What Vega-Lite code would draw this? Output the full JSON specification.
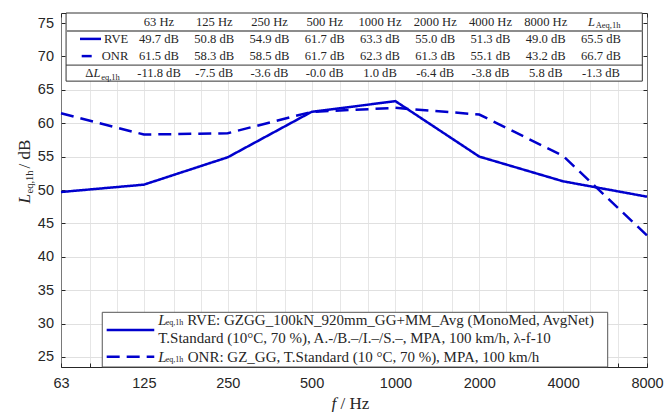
{
  "$schema": "https://vega.github.io/schema/vega-lite/v6.json",
  "width": 586,
  "height": 354,
  "autosize": {"type": "none"},
  "padding": {"left": 61, "top": 13, "right": 18, "bottom": 45},
  "background": "white",
  "config": {
    "view": {"stroke": "#262626", "strokeWidth": 1},
    "text": {"font": "Liberation Serif", "color": "#262626"}
  },
  "datasets": {
    "levels": [
      {"f": 63, "series": "RVE", "L": 49.7},
      {"f": 125, "series": "RVE", "L": 50.8},
      {"f": 250, "series": "RVE", "L": 54.9},
      {"f": 500, "series": "RVE", "L": 61.7},
      {"f": 1000, "series": "RVE", "L": 63.3},
      {"f": 2000, "series": "RVE", "L": 55.0},
      {"f": 4000, "series": "RVE", "L": 51.3},
      {"f": 8000, "series": "RVE", "L": 49.0},
      {"f": 63, "series": "ONR", "L": 61.5},
      {"f": 125, "series": "ONR", "L": 58.3},
      {"f": 250, "series": "ONR", "L": 58.5},
      {"f": 500, "series": "ONR", "L": 61.7},
      {"f": 1000, "series": "ONR", "L": 62.3},
      {"f": 2000, "series": "ONR", "L": 61.3},
      {"f": 4000, "series": "ONR", "L": 55.1},
      {"f": 8000, "series": "ONR", "L": 43.2}
    ],
    "tbl": [
      {"row": "head", "col": "63", "txt": "63 Hz"},
      {"row": "head", "col": "125", "txt": "125 Hz"},
      {"row": "head", "col": "250", "txt": "250 Hz"},
      {"row": "head", "col": "500", "txt": "500 Hz"},
      {"row": "head", "col": "1000", "txt": "1000 Hz"},
      {"row": "head", "col": "2000", "txt": "2000 Hz"},
      {"row": "head", "col": "4000", "txt": "4000 Hz"},
      {"row": "head", "col": "8000", "txt": "8000 Hz"},
      {"row": "RVE", "col": "63", "txt": "49.7 dB"},
      {"row": "RVE", "col": "125", "txt": "50.8 dB"},
      {"row": "RVE", "col": "250", "txt": "54.9 dB"},
      {"row": "RVE", "col": "500", "txt": "61.7 dB"},
      {"row": "RVE", "col": "1000", "txt": "63.3 dB"},
      {"row": "RVE", "col": "2000", "txt": "55.0 dB"},
      {"row": "RVE", "col": "4000", "txt": "51.3 dB"},
      {"row": "RVE", "col": "8000", "txt": "49.0 dB"},
      {"row": "RVE", "col": "LA", "txt": "65.5 dB"},
      {"row": "ONR", "col": "63", "txt": "61.5 dB"},
      {"row": "ONR", "col": "125", "txt": "58.3 dB"},
      {"row": "ONR", "col": "250", "txt": "58.5 dB"},
      {"row": "ONR", "col": "500", "txt": "61.7 dB"},
      {"row": "ONR", "col": "1000", "txt": "62.3 dB"},
      {"row": "ONR", "col": "2000", "txt": "61.3 dB"},
      {"row": "ONR", "col": "4000", "txt": "55.1 dB"},
      {"row": "ONR", "col": "8000", "txt": "43.2 dB"},
      {"row": "ONR", "col": "LA", "txt": "66.7 dB"},
      {"row": "d", "col": "63", "txt": "-11.8 dB"},
      {"row": "d", "col": "125", "txt": "-7.5 dB"},
      {"row": "d", "col": "250", "txt": "-3.6 dB"},
      {"row": "d", "col": "500", "txt": "-0.0 dB"},
      {"row": "d", "col": "1000", "txt": "1.0 dB"},
      {"row": "d", "col": "2000", "txt": "-6.4 dB"},
      {"row": "d", "col": "4000", "txt": "-3.8 dB"},
      {"row": "d", "col": "8000", "txt": "5.8 dB"},
      {"row": "d", "col": "LA", "txt": "-1.3 dB"}
    ],
    "one": [{}]
  },
  "layer": [
    {
      "resolve": {"axis": {"x": "independent", "y": "independent"}},
      "layer": [
        {
          "data": {"name": "levels"},
          "mark": {"type": "line", "color": "#0000cd", "strokeWidth": 2.5, "strokeCap": "butt"},
          "encoding": {
            "x": {
              "field": "f", "type": "quantitative",
              "scale": {"type": "log", "domain": [63, 8000], "nice": false},
              "axis": {
                "orient": "bottom",
                "values": [63, 80, 100, 125, 160, 200, 250, 315, 400, 500, 630, 800, 1000, 1250, 1600, 2000, 2500, 3150, 4000, 5000, 6300, 8000],
                "format": "d",
                "labelExpr": "indexof([63,125,250,500,1000,2000,4000,8000], datum.value) >= 0 ? datum.label : ''",
                "labelOverlap": false, "labelFlush": false,
                "grid": true, "gridColor": "#cccccc", "gridDash": [1, 1],
                "domain": false, "ticks": true, "tickSize": -4, "tickColor": "#262626",
                "labelFont": "Liberation Sans", "labelFontSize": 14.5, "labelColor": "#262626", "labelPadding": 13,
                "title": "f", "titleFont": "Liberation Serif", "titleFontStyle": "italic", "titleFontWeight": "normal",
                "titleFontSize": 17, "titleColor": "#262626", "titleX": 270, "titleY": 41,
                "titleAlign": "left", "titleBaseline": "alphabetic"
              }
            },
            "y": {
              "field": "L", "type": "quantitative",
              "scale": {"domain": [23.5, 76.5], "nice": false, "zero": false},
              "axis": {
                "orient": "left",
                "values": [25, 30, 35, 40, 45, 50, 55, 60, 65, 70, 75],
                "grid": true, "gridColor": "#e0e0e0",
                "domain": false, "ticks": true, "tickSize": -4, "tickColor": "#262626",
                "labelFont": "Liberation Sans", "labelFontSize": 14.5, "labelColor": "#262626", "labelPadding": 11.5,
                "title": "L", "titleFont": "Liberation Serif", "titleFontStyle": "italic", "titleFontWeight": "normal",
                "titleFontSize": 17, "titleColor": "#262626", "titleAngle": 270, "titleX": -32, "titleY": 190,
                "titleAlign": "left", "titleBaseline": "alphabetic"
              }
            },
            "strokeDash": {
              "field": "series", "type": "nominal",
              "scale": {"domain": ["RVE", "ONR"], "range": [[1, 0], [13, 7]]},
              "legend": null
            }
          }
        },
        {
          "data": {"name": "one"},
          "mark": {"type": "rect", "fill": "white", "stroke": "#333333", "strokeWidth": 1},
          "encoding": {
            "x": {"datum": 65.7, "type": "quantitative", "axis": {
              "orient": "bottom", "labels": false, "ticks": false, "grid": false, "domain": false,
              "title": "/ Hz", "titleFont": "Liberation Serif", "titleFontWeight": "normal", "titleFontSize": 17,
              "titleColor": "#262626", "titleX": 279, "titleY": 41, "titleAlign": "left", "titleBaseline": "alphabetic"}},
            "x2": {"datum": 7696},
            "y": {"datum": 76.5, "type": "quantitative", "axis": {
              "orient": "left", "labels": false, "ticks": false, "grid": false, "domain": false,
              "title": "eq,1h", "titleFont": "Liberation Serif", "titleFontWeight": "normal", "titleFontSize": 10.5,
              "titleColor": "#262626", "titleAngle": 270, "titleX": -29, "titleY": 180,
              "titleAlign": "left", "titleBaseline": "alphabetic"}},
            "y2": {"datum": 66.3}
          }
        },
        {
          "data": {"name": "one"},
          "mark": {"type": "rule", "stroke": "#8c8c8c", "strokeWidth": 2},
          "encoding": {
            "x": {"datum": 65.7, "type": "quantitative", "axis": null},
            "x2": {"datum": 7696},
            "y": {"datum": 73.8, "type": "quantitative", "axis": null}
          }
        },
        {
          "data": {"name": "one"},
          "mark": {"type": "rule", "stroke": "#333333", "strokeWidth": 1},
          "encoding": {
            "x": {"datum": 65.7, "type": "quantitative", "axis": null},
            "x2": {"datum": 7696},
            "y": {"datum": 68.7, "type": "quantitative", "axis": null}
          }
        },
        {
          "data": {"name": "one"},
          "mark": {"type": "rect", "fill": "white", "stroke": "#555555", "strokeWidth": 1},
          "encoding": {
            "x": {"datum": 88.6, "type": "quantitative", "axis": {
              "orient": "top", "values": [63, 80, 100, 125, 160, 200, 250, 315, 400, 500, 630, 800, 1000, 1250, 1600, 2000, 2500, 3150, 4000, 5000, 6300, 8000],
              "labels": false, "ticks": true, "tickSize": -4, "tickColor": "#262626", "grid": false, "domain": false, "title": null}},
            "x2": {"datum": 5781},
            "y": {"datum": 31.69, "type": "quantitative", "axis": {
              "orient": "left", "labels": false, "ticks": false, "grid": false, "domain": false,
              "title": "/ dB", "titleFont": "Liberation Serif", "titleFontWeight": "normal", "titleFontSize": 17,
              "titleColor": "#262626", "titleAngle": 270, "titleX": -32, "titleY": 155,
              "titleAlign": "left", "titleBaseline": "alphabetic"}},
            "y2": {"datum": 23.5}
          }
        },
        {
          "data": {"name": "one"},
          "mark": {"type": "rule", "stroke": "#0000cd", "strokeWidth": 2.5},
          "encoding": {
            "x": {"datum": 91.9, "type": "quantitative", "axis": null},
            "x2": {"datum": 136.2},
            "y": {"datum": 29.04, "type": "quantitative", "axis": {
              "orient": "right", "values": [25, 30, 35, 40, 45, 50, 55, 60, 65, 70, 75],
              "labels": false, "ticks": true, "tickSize": -4, "tickColor": "#262626", "grid": false, "domain": false, "title": null}}
          }
        },
        {
          "data": {"name": "one"},
          "mark": {"type": "rule", "stroke": "#0000cd", "strokeWidth": 2.5, "strokeDash": [13, 7]},
          "encoding": {
            "x": {"datum": 91.9, "type": "quantitative", "axis": null},
            "x2": {"datum": 136.2},
            "y": {"datum": 25.04, "type": "quantitative", "axis": null}
          }
        },
        {
          "data": {"name": "one"},
          "mark": {"type": "text", "align": "left", "baseline": "middle", "fontSize": 15, "fontStyle": "italic"},
          "encoding": {
            "x": {"datum": 140.8, "type": "quantitative", "axis": null},
            "y": {"datum": 30.54, "type": "quantitative", "axis": null},
            "text": {"value": "L"}
          }
        },
        {
          "data": {"name": "one"},
          "mark": {"type": "text", "align": "left", "baseline": "middle", "fontSize": 8, "dx": 7.5, "dy": 3.5},
          "encoding": {
            "x": {"datum": 140.8, "type": "quantitative", "axis": null},
            "y": {"datum": 30.54, "type": "quantitative", "axis": null},
            "text": {"value": "eq,1h"}
          }
        },
        {
          "data": {"name": "one"},
          "mark": {"type": "text", "align": "left", "baseline": "middle", "fontSize": 15, "dx": 29},
          "encoding": {
            "x": {"datum": 140.8, "type": "quantitative", "axis": null},
            "y": {"datum": 30.54, "type": "quantitative", "axis": null},
            "text": {"value": "RVE: GZGG_100kN_920mm_GG+MM_Avg (MonoMed, AvgNet)"}
          }
        },
        {
          "data": {"name": "one"},
          "mark": {"type": "text", "align": "left", "baseline": "middle", "fontSize": 15},
          "encoding": {
            "x": {"datum": 140.8, "type": "quantitative", "axis": null},
            "y": {"datum": 27.8, "type": "quantitative", "axis": null},
            "text": {"value": "T.Standard (10°C, 70 %), A.-/B.–/I.–/S.–, MPA, 100 km/h, λ-f-10"}
          }
        },
        {
          "data": {"name": "one"},
          "mark": {"type": "text", "align": "left", "baseline": "middle", "fontSize": 15, "fontStyle": "italic"},
          "encoding": {
            "x": {"datum": 140.8, "type": "quantitative", "axis": null},
            "y": {"datum": 25.04, "type": "quantitative", "axis": null},
            "text": {"value": "L"}
          }
        },
        {
          "data": {"name": "one"},
          "mark": {"type": "text", "align": "left", "baseline": "middle", "fontSize": 8, "dx": 7.5, "dy": 3.5},
          "encoding": {
            "x": {"datum": 140.8, "type": "quantitative", "axis": null},
            "y": {"datum": 25.04, "type": "quantitative", "axis": null},
            "text": {"value": "eq,1h"}
          }
        },
        {
          "data": {"name": "one"},
          "mark": {"type": "text", "align": "left", "baseline": "middle", "fontSize": 15, "dx": 29.5},
          "encoding": {
            "x": {"datum": 140.8, "type": "quantitative", "axis": null},
            "y": {"datum": 25.04, "type": "quantitative", "axis": null},
            "text": {"value": "ONR: GZ_GG, T.Standard (10 °C, 70 %), MPA, 100 km/h"}
          }
        }
      ]
    },
    {
      "encoding": {
        "x": {"field": "col", "type": "ordinal",
          "scale": {"type": "point", "domain": ["63", "125", "250", "500", "1000", "2000", "4000", "8000", "LA"], "range": [98, 540], "padding": 0, "round": false},
          "axis": null},
        "y": {"field": "row", "type": "ordinal",
          "scale": {"type": "point", "domain": ["head", "RVE", "ONR", "d"], "range": [8.7, 60.3], "padding": 0, "round": false},
          "axis": null}
      },
      "layer": [
        {
          "data": {"name": "tbl"},
          "mark": {"type": "text", "baseline": "middle", "fontSize": 12.6},
          "encoding": {"text": {"field": "txt"}}
        },
        {
          "data": {"name": "one"},
          "mark": {"type": "text", "align": "right", "baseline": "middle", "fontSize": 12.6, "dx": -30.7},
          "encoding": {"x": {"datum": "63"}, "y": {"datum": "RVE"}, "text": {"value": "RVE"}}
        },
        {
          "data": {"name": "one"},
          "mark": {"type": "text", "align": "right", "baseline": "middle", "fontSize": 12.6, "dx": -30.7},
          "encoding": {"x": {"datum": "63"}, "y": {"datum": "ONR"}, "text": {"value": "ONR"}}
        },
        {
          "data": {"name": "one"},
          "mark": {"type": "rule", "stroke": "#0000cd", "strokeWidth": 2.5, "xOffset": -79, "x2Offset": -58},
          "encoding": {"x": {"datum": "63"}, "x2": {"datum": "63"}, "y": {"datum": "RVE"}}
        },
        {
          "data": {"name": "one"},
          "mark": {"type": "rule", "stroke": "#0000cd", "strokeWidth": 2.5, "xOffset": -77.3, "x2Offset": -67.3},
          "encoding": {"x": {"datum": "63"}, "x2": {"datum": "63"}, "y": {"datum": "ONR"}}
        },
        {
          "data": {"name": "one"},
          "mark": {"type": "text", "align": "right", "baseline": "middle", "fontSize": 12.6, "dx": -65.7},
          "encoding": {"x": {"datum": "63"}, "y": {"datum": "d"}, "text": {"value": "Δ"}}
        },
        {
          "data": {"name": "one"},
          "mark": {"type": "text", "align": "left", "baseline": "middle", "fontSize": 12.6, "fontStyle": "italic", "dx": -65.5},
          "encoding": {"x": {"datum": "63"}, "y": {"datum": "d"}, "text": {"value": "L"}}
        },
        {
          "data": {"name": "one"},
          "mark": {"type": "text", "align": "left", "baseline": "middle", "fontSize": 8.5, "dx": -57.8, "dy": 3.5},
          "encoding": {"x": {"datum": "63"}, "y": {"datum": "d"}, "text": {"value": "eq,1h"}}
        },
        {
          "data": {"name": "one"},
          "mark": {"type": "text", "align": "right", "baseline": "middle", "fontSize": 12.6, "fontStyle": "italic", "dx": -6},
          "encoding": {"x": {"datum": "LA"}, "y": {"datum": "head"}, "text": {"value": "L"}}
        },
        {
          "data": {"name": "one"},
          "mark": {"type": "text", "align": "left", "baseline": "middle", "fontSize": 8.5, "dx": -5.3, "dy": 3.5},
          "encoding": {"x": {"datum": "LA"}, "y": {"datum": "head"}, "text": {"value": "Aeq,1h"}}
        }
      ]
    }
  ],
  "resolve": {"scale": {"x": "independent", "y": "independent"}}
}
